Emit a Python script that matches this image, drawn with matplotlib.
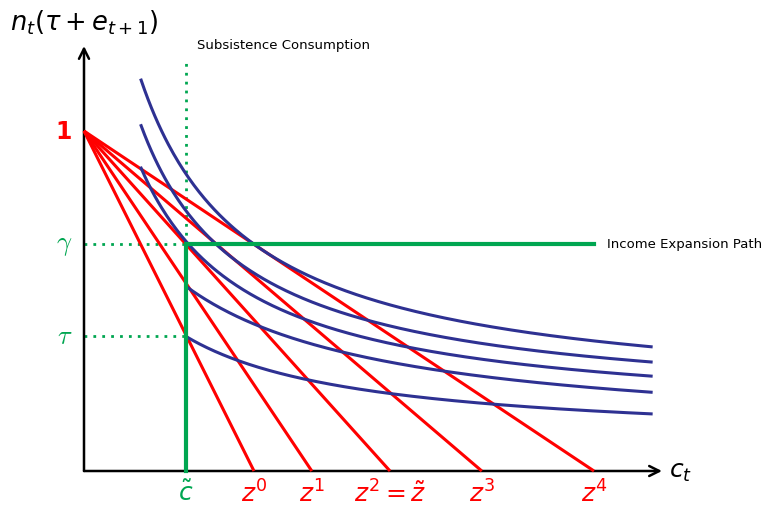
import numpy as np
import matplotlib
matplotlib.use("Agg")
import matplotlib.pyplot as plt

plt.rcParams['mathtext.fontset'] = 'dejavusans'
plt.rcParams['font.family'] = 'DejaVu Sans'

RED = '#FF0000'
BLUE = '#2E3192'
GREEN = '#00A651'

# budget lines: all start at (0, 1) and hit the c_t axis at z
budget_intercepts = [0.5, 0.67, 0.9, 1.17, 1.5]
budget_labels = ['$z^0$', '$z^1$', r'$z^2 = \tilde{z}$', '$z^3$', '$z^4$']

# indifference curves  y = floor + level / (c - shift), drawn from start to end
ic_shift = [-0.156, -0.142, -0.156, -0.314, -0.229]
ic_floor = [0.196, 0.177, 0.147, 0.092, 0.080]
ic_level = [0.309, 0.260, 0.241, 0.277, 0.167]
ic_start = [0.168, 0.168, 0.168, 0.303, 0.303]
ic_end = 1.668

c_tilde = 0.3
gamma = 0.668
tau = 0.397
expansion_end = 1.5

fig = plt.figure(figsize=(7.74, 5.10), dpi=100)
ax = fig.add_axes([0, 0, 1, 1])
ax.set_xlim(-84 / 340, (774 - 84) / 340)
ax.set_ylim(-38 / 340, 472 / 340)
ax.axis('off')

# axes with arrow heads
arrow = dict(arrowstyle='->', lw=1.8, color='black', mutation_scale=18, shrinkA=0, shrinkB=0)
ax.annotate('', xy=(1.7, 0), xytext=(0, 0), arrowprops=arrow)
ax.annotate('', xy=(0, 1.25), xytext=(0, 0), arrowprops=arrow)

# red budget lines
for z in budget_intercepts:
    ax.plot([0, z], [1, 0], color=RED, lw=2.2, solid_capstyle='butt', zorder=3)

# blue indifference curves
for a, b, k, s in zip(ic_shift, ic_floor, ic_level, ic_start):
    c = np.linspace(s, ic_end, 300)
    ax.plot(c, b + k / (c - a), color=BLUE, lw=2.2, zorder=4)

# subsistence consumption and income expansion path
dots = (0, (1, 2.2))
ax.plot([c_tilde, c_tilde], [gamma, 1.2], color=GREEN, lw=2, ls=dots, zorder=2)
ax.plot([0, c_tilde], [gamma, gamma], color=GREEN, lw=2, ls=dots, zorder=2)
ax.plot([0, c_tilde], [tau, tau], color=GREEN, lw=2, ls=dots, zorder=2)
ax.plot([c_tilde, c_tilde, expansion_end], [0, gamma, gamma], color=GREEN, lw=3,
        solid_joinstyle='miter', zorder=5)

ax.text(c_tilde + 0.032, 1.253, 'Subsistence Consumption', fontsize=9.5, va='center', ha='left')
ax.text(expansion_end + 0.038, gamma, 'Income Expansion Path', fontsize=9.5, va='center', ha='left')

# axis labels
ax.text(-0.218, 1.32, r'$n_t(\tau + e_{t+1})$', fontsize=18.5, va='center', ha='left')
ax.text(1.72, 0, '$c_t$', fontsize=18, va='center', ha='left')

# tick labels
ax.text(-0.035, 1, '1', fontsize=17, color=RED, fontweight='bold', va='center', ha='right')
ax.text(-0.035, gamma, r'$\gamma$', fontsize=19, color=GREEN, va='center', ha='right',
        math_fontfamily='cm')
ax.text(-0.035, tau, r'$\tau$', fontsize=19, color=GREEN, va='center', ha='right',
        math_fontfamily='cm')
ax.text(c_tilde, -0.025, r'$\tilde{c}$', fontsize=18, color=GREEN, va='top', ha='center')
for z, lab in zip(budget_intercepts, budget_labels):
    ax.text(z, -0.025, lab, fontsize=18, color=RED, va='top', ha='center')

fig.savefig('out.png', dpi=100)
